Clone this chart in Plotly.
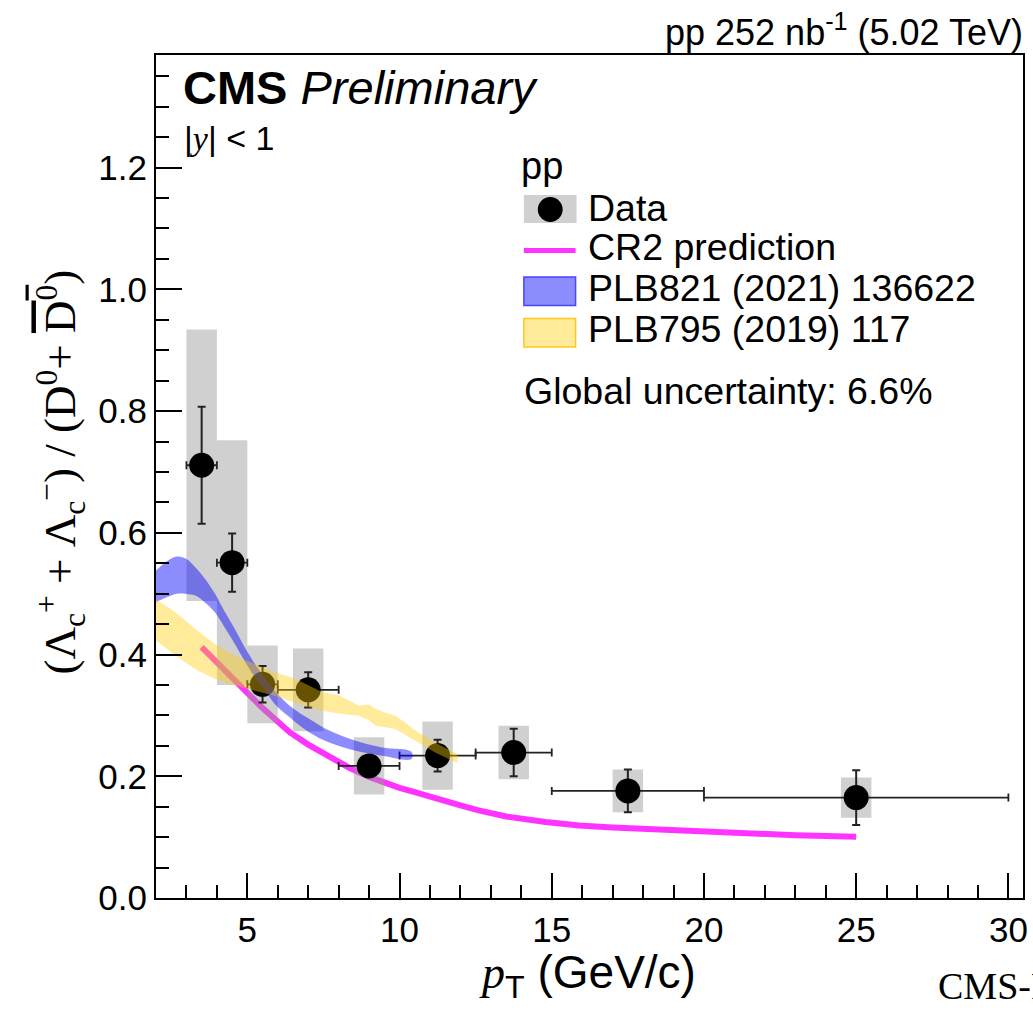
import plotly.graph_objects as go

# ---------------- data ----------------
pt = [3.5, 4.5, 5.5, 7.0, 9.0, 11.25, 13.75, 17.5, 25.0]
pt_lo = [3.0, 4.0, 5.0, 6.0, 8.0, 10.0, 12.5, 15.0, 20.0]
pt_hi = [4.0, 5.0, 6.0, 8.0, 10.0, 12.5, 15.0, 20.0, 30.0]
ratio = [0.711, 0.551, 0.351, 0.342, 0.217, 0.234, 0.239, 0.176, 0.165]
stat_err = [0.096, 0.048, 0.030, 0.029, 0.015, 0.026, 0.039, 0.035, 0.045]
syst_err = [0.223, 0.201, 0.064, 0.068, 0.047, 0.056, 0.044, 0.035, 0.033]

cr2_x = [3.5, 4.0, 4.5, 5.0, 5.5, 6.0, 6.4, 7.0, 7.5, 8.35, 9.0, 9.5, 10.0, 10.5,
         11.0, 12.0, 12.6, 13.5, 14.8, 15.9, 17.0, 18.0, 19.5, 21.3, 23.0, 25.0]
cr2_y = [0.412, 0.388, 0.362, 0.337, 0.312, 0.290, 0.272, 0.252, 0.238, 0.214, 0.199,
         0.189, 0.181, 0.174, 0.166, 0.152, 0.144, 0.134, 0.125, 0.119, 0.1160,
         0.1135, 0.110, 0.106, 0.103, 0.1005]

plb821_x = [2.0, 2.35, 2.69, 3.0, 3.29, 3.6, 3.94, 4.25, 4.59, 4.9, 5.25, 5.6, 5.9,
            6.39, 7.04, 7.69, 8.56, 9.43, 10.39]
plb821_hi = [0.538, 0.553, 0.561, 0.557, 0.5435, 0.525, 0.4997, 0.471, 0.442, 0.413,
             0.3845, 0.360, 0.3406, 0.316, 0.294, 0.275, 0.2584, 0.2474, 0.2403]
plb821_lo = [0.486, 0.494, 0.4997, 0.4995, 0.497, 0.486, 0.469, 0.445, 0.4175, 0.390,
             0.3625, 0.340, 0.3187, 0.297, 0.272, 0.2556, 0.242, 0.2337, 0.2283]

plb795_x = [2.0, 2.65, 3.29, 3.94, 4.59, 5.25, 5.9, 6.5, 7.0, 7.47, 8.0, 8.34, 8.67,
            8.99, 9.21, 9.5, 9.86, 10.2, 10.52, 11.17, 11.9]
plb795_hi = [0.491, 0.469, 0.442, 0.417, 0.398, 0.3845, 0.371, 0.362, 0.350, 0.338,
             0.333, 0.324, 0.316, 0.318, 0.3105, 0.305, 0.2995, 0.288, 0.275, 0.2556, 0.236]
plb795_lo = [0.423, 0.398, 0.376, 0.360, 0.349, 0.3406, 0.3324, 0.322, 0.314, 0.3077,
             0.303, 0.301, 0.2995, 0.292, 0.283, 0.281, 0.2776, 0.268, 0.2584, 0.239, 0.222]

x_ticks = [5, 10, 15, 20, 25, 30]
y_ticks = [0.0, 0.2, 0.4, 0.6, 0.8, 1.0, 1.2]

# ---------------- layout geometry ----------------
W, H = 1033, 1017
ML, MR, MT, MB = 156, 5, 55, 119
PW, PH = W - ML - MR, H - MT - MB
SANS = "Liberation Sans, Arial, Helvetica, sans-serif"
SERIF = "Liberation Serif, Times New Roman, serif"


def px(xp):
    return (xp - ML) / PW


def py(yp):
    return (H - MB - yp) / PH


fig = go.Figure()

# CR2 prediction (drawn first, under the boxes)
fig.add_trace(go.Scatter(x=cr2_x, y=cr2_y, mode="lines",
                         line=dict(color="rgba(255,0,255,0.8)", width=6),
                         showlegend=False, hoverinfo="skip"))

# systematic boxes
half_w = 0.5
bx, by = [], []
for x, y, s in zip(pt, ratio, syst_err):
    bx += [x - half_w, x + half_w, x + half_w, x - half_w, x - half_w, None]
    by += [y - s, y - s, y + s, y + s, y - s, None]
fig.add_trace(go.Scatter(x=bx, y=by, mode="lines", fill="toself",
                         fillcolor="rgba(150,150,150,0.45)", line=dict(width=0),
                         showlegend=False, hoverinfo="skip"))

# data points
fig.add_trace(go.Scatter(
    x=pt, y=ratio, mode="markers",
    marker=dict(color="black", size=25),
    error_y=dict(type="data", array=stat_err, color="#222222", thickness=2, width=4),
    error_x=dict(type="data", array=[h - x for h, x in zip(pt_hi, pt)],
                 arrayminus=[x - l for x, l in zip(pt, pt_lo)],
                 color="#222222", thickness=1.8, width=4),
    showlegend=False))

# PLB821 band
fig.add_trace(go.Scatter(x=plb821_x + plb821_x[::-1], y=plb821_hi + plb821_lo[::-1],
                         mode="lines", fill="toself", fillcolor="rgba(0,0,255,0.45)",
                         line=dict(width=0, shape="spline"), showlegend=False,
                         hoverinfo="skip"))
# PLB795 band
fig.add_trace(go.Scatter(x=plb795_x + plb795_x[::-1], y=plb795_hi + plb795_lo[::-1],
                         mode="lines", fill="toself", fillcolor="rgba(255,204,0,0.4)",
                         line=dict(width=0), showlegend=False, hoverinfo="skip"))

axis_common = dict(showline=True, linecolor="black", linewidth=2, mirror=True,
                   ticks="inside", tickcolor="black", tickwidth=1.5, showgrid=False,
                   zeroline=False, tickfont=dict(family=SANS, size=35, color="black"))
fig.update_xaxes(range=[2.0, 30.48], tickvals=x_ticks, ticklen=25,
                 minor=dict(dtick=1, tick0=0, ticklen=13, ticks="inside",
                            tickcolor="black", tickwidth=1.5, showgrid=False),
                 **axis_common)
fig.update_yaxes(range=[0, 1.385], tickvals=y_ticks, tickformat=".1f", ticklen=26,
                 minor=dict(dtick=0.05, tick0=0, ticklen=13, ticks="inside",
                            tickcolor="black", tickwidth=1.5, showgrid=False),
                 **axis_common)

shapes = []
annos = []


def text(xp, yp, s, size, xanchor="left", family=SANS, angle=0, yanchor="middle"):
    annos.append(dict(x=px(xp), y=py(yp), xref="paper", yref="paper", text=s,
                      showarrow=False, xanchor=xanchor, yanchor=yanchor,
                      textangle=angle, font=dict(family=family, size=size, color="black")))


# header texts
text(1030, 30, "pp 252 nb<sup>-1</sup> (5.02 TeV)", 36, xanchor="right")
text(181, 88, "<b>CMS</b> <i>Preliminary</i>", 47)
text(182, 138, "|<span style='font-family:Liberation Serif'><i>y</i></span>| &lt; 1", 34)

# legend
text(521, 166, "pp", 38)
shapes.append(dict(type="rect", xref="paper", yref="paper", x0=px(526), x1=px(579),
                   y0=py(223), y1=py(195), fillcolor="rgb(208,208,208)", line=dict(width=0)))
shapes.append(dict(type="circle", xref="paper", yref="paper", x0=px(540), x1=px(565),
                   y0=py(222), y1=py(197), fillcolor="black", line=dict(width=0)))
text(588, 208, "Data", 37.5)
shapes.append(dict(type="line", xref="paper", yref="paper", x0=px(526), x1=px(578),
                   y0=py(250.5), y1=py(250.5), line=dict(color="#ff33ff", width=5)))
text(588, 247, "CR2 prediction", 37.5)
shapes.append(dict(type="rect", xref="paper", yref="paper", x0=px(526), x1=px(578),
                   y0=py(305.5), y1=py(277), fillcolor="rgba(0,0,255,0.45)",
                   line=dict(color="rgba(70,70,255,1)", width=1.5)))
text(588, 288, "PLB821 (2021) 136622", 37.5)
shapes.append(dict(type="rect", xref="paper", yref="paper", x0=px(526), x1=px(578),
                   y0=py(347), y1=py(318.5), fillcolor="rgba(255,204,0,0.4)",
                   line=dict(color="rgba(255,200,30,1)", width=1.5)))
text(588, 329, "PLB795 (2019) 117", 37.5)
text(524, 391, "Global uncertainty: 6.6%", 37.5)

# axis titles
text(590, 975,
     "<span style='font-family:Liberation Serif'><i>p</i></span><sub>T</sub> (GeV/c)",
     46, xanchor="center")
text(60, 472,
     "(Λ<sub>c</sub><sup>+</sup> + Λ<sub>c</sub><sup>−</sup>) / "
     "(D<sup>0</sup>+ <span style='text-decoration:overline'>D<sup>0</sup></span>)",
     45, xanchor="center", family=SERIF, angle=-90)
text(941, 986, "CMS-PAS-HIN-21-004", 38, family=SERIF)

fig.update_layout(width=W, height=H, margin=dict(l=ML, r=MR, t=MT, b=MB),
                  paper_bgcolor="white", plot_bgcolor="white",
                  shapes=shapes, annotations=annos, showlegend=False)

fig.write_html("out.html")
